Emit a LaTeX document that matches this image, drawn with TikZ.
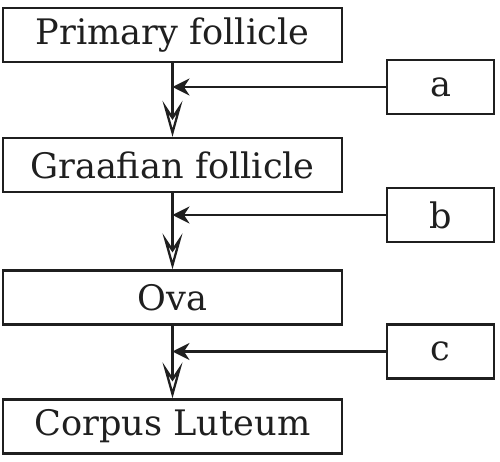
\documentclass[tikz,border=0pt]{standalone}
\usepackage{fontspec}
\setmainfont{DejaVu Serif}
\usetikzlibrary{arrows.meta}

\tikzset{
  stagebox/.style={draw, line width=1.3pt, minimum width=6.78cm, minimum height=1.08cm, inner sep=0pt,
                   font=\fontsize{20}{22}\selectfont},
  labelbox/.style={draw, line width=1.3pt, minimum width=2.14cm, minimum height=1.08cm, inner sep=0pt,
                   font=\fontsize{20}{22}\selectfont},
  flow/.style={line width=1.3pt, -{Stealth[open, length=0.72cm, width=0.4cm, inset=0.3cm, line width=1.3pt]}},
  feed/.style={line width=1.3pt, -{Stealth[length=0.34cm, width=0.34cm]}}
}

\begin{document}
\begin{tikzpicture}[x=0.02cm, y=-0.02cm, color=black!88]
    \useasboundingbox (0,0) rectangle (500,462);

    % main sequence
    \node[stagebox] (primary) at (172.5, 35)  {Primary follicle};
    \node[stagebox] (graaf)   at (172.5, 165) {Graafian follicle};
    \node[stagebox] (ova)     at (172.5, 297.5) {Ova};
    \node[stagebox] (corpus)  at (172.5, 426.5) {Corpus Luteum};

    % side labels
    \node[labelbox] (a) at (440.5, 87)    {a};
    \node[labelbox] (b) at (440.5, 215)   {b};
    \node[labelbox] (c) at (440.5, 351.5) {c};

    \draw[flow] (primary) -- (graaf);
    \draw[flow] (graaf) -- (ova);
    \draw[flow] (ova) -- (corpus);

    \draw[feed] (a) -- (a -| primary.south);
    \draw[feed] (b) -- (b -| graaf.south);
    \draw[feed] (c) -- (c -| ova.south);
\end{tikzpicture}
\end{document}
